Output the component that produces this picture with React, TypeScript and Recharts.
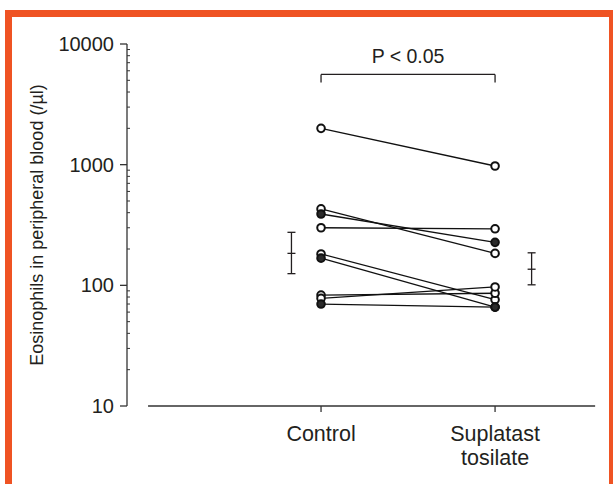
import React from 'react';
import { ComposedChart, Line, Scatter, ErrorBar, XAxis, YAxis, ReferenceLine } from 'recharts';

// paired eosinophil counts (/µl), one entry per subject
const groups = ['Control', 'Suplatast tosilate'];
const controlValues = [2000, 430, 390, 300, 182, 168, 83, 78, 70];
const suplatastValues = [975, 184, 227, 294, 76, 66, 86, 97, 66];
const filledSubjects = [false, false, true, false, false, true, false, false, true];

// mean and spread per group
const groupMeans = [184, 136];
const groupLower = [125, 101];
const groupUpper = [275, 186];

const yTicks = [10, 100, 1000, 10000];
const yMinorTicks = [
  20, 30, 40, 50, 60, 70, 80, 90,
  200, 300, 400, 500, 600, 700, 800, 900,
  2000, 3000, 4000, 5000, 6000, 7000, 8000, 9000,
];
const yLabel = 'Eosinophils in peripheral blood (/µl)';
const pLabel = 'P < 0.05';

const FONT = '"Liberation Sans", Arial, Helvetica, sans-serif';
const ORANGE = '#ef5323';
const INK = '#231f20';
const AXIS = '#333333';

const X_DOMAIN: [number, number] = [-0.115, 2.603];
const X_LINE: [number, number] = [0.006, 2.575];
const ERROR_OFFSET = [-0.17, 0.21];
const BRACKET_Y = 5600;
const BRACKET_TIP = 4800;

const subjectLines = controlValues.map((c, i) => ({
  id: `s${i + 1}`,
  filled: filledSubjects[i],
  points: [
    { x: 1, value: c },
    { x: 2, value: suplatastValues[i] },
  ],
}));

const errorData = groups.map((g, i) => ({
  name: g,
  x: i + 1 + ERROR_OFFSET[i],
  value: groupMeans[i],
  err: [groupMeans[i] - groupLower[i], groupUpper[i] - groupMeans[i]],
}));

const allYTicks = [...yTicks, ...yMinorTicks].sort((a, b) => a - b);

const GroupTick = ({ x, y, payload }: any) => {
  const name = groups[Math.round(payload.value) - 1] || '';
  const lines = name.split(' ');
  return (
    <text x={x} y={y} textAnchor="middle" fill={INK} fontSize={21.5} fontFamily={FONT}>
      {lines.map((l, i) => (
        <tspan key={i} x={x} dy={i === 0 ? 27 : 24}>
          {l}
        </tspan>
      ))}
    </text>
  );
};

// major ticks point outward with a label, minor ticks point inward
const LogTick = ({ x, y, payload }: any) => {
  const v = payload.value;
  const major = yTicks.includes(v);
  if (!major) {
    return <line x1={x} x2={x + 3} y1={y} y2={y} stroke={AXIS} strokeWidth={1} />;
  }
  return (
    <g>
      <line x1={x - 7} x2={x} y1={y} y2={y} stroke={AXIS} strokeWidth={1.3} />
      <text x={x - 13} y={y} textAnchor="end" dominantBaseline="central" fill={INK} fontSize={20} fontFamily={FONT}>
        {v}
      </text>
    </g>
  );
};

const makeDot = (filled: boolean) => (props: any) => {
  const { cx, cy, index, key } = props;
  return (
    <circle
      key={key ?? index}
      cx={cx}
      cy={cy}
      r={3.8}
      fill={filled ? '#2b2b2b' : '#ffffff'}
      stroke="#111111"
      strokeWidth={2}
    />
  );
};

const MeanTick = (props: any) => {
  const { cx, cy } = props;
  return <line x1={cx - 4} x2={cx + 4} y1={cy} y2={cy} stroke={INK} strokeWidth={1.3} />;
};

const YTitle = ({ viewBox }: any) => {
  const cy = viewBox ? viewBox.y + viewBox.height / 2 : 225;
  return (
    <text
      x={37}
      y={cy}
      transform={`rotate(-90 37 ${cy})`}
      textAnchor="middle"
      dominantBaseline="central"
      fill={INK}
      fontSize={18}
      fontFamily={FONT}
    >
      {yLabel}
    </text>
  );
};

export default function App() {
  return (
    <div style={{ position: 'absolute', left: 0, top: 0, width: 613, height: 484, overflow: 'hidden', background: '#fff' }}>
      <div
        style={{
          position: 'absolute',
          left: 5,
          top: 10,
          width: 611,
          height: 500,
          boxSizing: 'border-box',
          border: `7px solid ${ORANGE}`,
          background: '#fff',
        }}
      />
      <div style={{ position: 'absolute', left: 0, top: 0 }}>
        <ComposedChart width={613} height={484} margin={{ top: 44, right: 13, left: 0, bottom: 8 }}>
          <XAxis
            type="number"
            dataKey="x"
            domain={X_DOMAIN}
            allowDataOverflow
            ticks={[1, 2]}
            interval={0}
            axisLine={false}
            tickLine={{ stroke: AXIS, strokeWidth: 1.3 }}
            tickSize={6}
            tick={<GroupTick />}
            height={70}
          />
          <YAxis
            type="number"
            scale="log"
            domain={[10, 10000]}
            allowDataOverflow
            ticks={allYTicks}
            interval={0}
            width={127}
            tickSize={0}
            tickMargin={0}
            axisLine={{ stroke: AXIS, strokeWidth: 1.3 }}
            tickLine={false}
            tick={<LogTick />}
            label={{ content: <YTitle /> }}
          />
          <ReferenceLine
            segment={[{ x: X_LINE[0], y: 10 }, { x: X_LINE[1], y: 10 }]}
            stroke={AXIS}
            strokeWidth={1.3}
            ifOverflow="visible"
          />
          <ReferenceLine
            segment={[{ x: 1, y: BRACKET_Y }, { x: 2, y: BRACKET_Y }]}
            stroke={INK}
            strokeWidth={1.3}
            ifOverflow="visible"
            label={{ value: pLabel, position: 'top', offset: 11, fill: INK, fontSize: 19.5, fontFamily: FONT }}
          />
          <ReferenceLine
            segment={[{ x: 1, y: BRACKET_Y }, { x: 1, y: BRACKET_TIP }]}
            stroke={INK}
            strokeWidth={1.3}
            ifOverflow="visible"
          />
          <ReferenceLine
            segment={[{ x: 2, y: BRACKET_Y }, { x: 2, y: BRACKET_TIP }]}
            stroke={INK}
            strokeWidth={1.3}
            ifOverflow="visible"
          />
          {subjectLines.map((s) => (
            <Line
              key={s.id}
              data={s.points}
              dataKey="value"
              type="linear"
              stroke="#111111"
              strokeWidth={1.3}
              dot={makeDot(s.filled)}
              activeDot={false}
              isAnimationActive={false}
            />
          ))}
          <Scatter data={errorData} dataKey="value" shape={<MeanTick />} isAnimationActive={false}>
            <ErrorBar dataKey="err" direction="y" width={4} stroke={INK} strokeWidth={1.3} isAnimationActive={false} />
          </Scatter>
        </ComposedChart>
      </div>
    </div>
  );
}
